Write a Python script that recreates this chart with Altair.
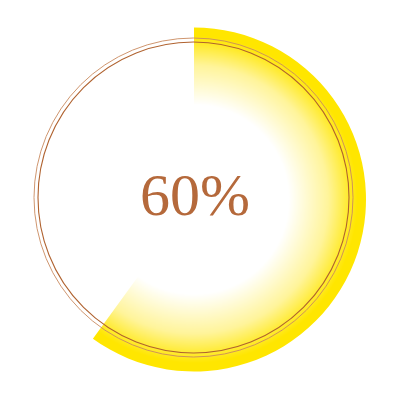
import math
import altair as alt
import pandas as pd

# ---- data ----
labels = ["progress"]
values = [60]
totals = [100]

frac = values[0] / totals[0]
end = 2 * math.pi * frac

# bounding box (in units of the radius) of the pie slice from 12 o'clock clockwise
xs = [0.0, 0.0, math.sin(end)]
ys = [0.0, -1.0, -math.cos(end)]
for a, px, py in [(math.pi / 2, 1, 0), (math.pi, 0, 1), (3 * math.pi / 2, -1, 0)]:
    if a <= end:
        xs.append(px)
        ys.append(py)
w = max(xs) - min(xs)
h = max(ys) - min(ys)
s = max(w, h)
ux0 = (max(xs) + min(xs)) / 2 - s / 2
uy0 = (max(ys) + min(ys)) / 2 - s / 2
gx = (0 - ux0) / s
gy = (0 - uy0) / s
gr = 1 / s

df = pd.DataFrame({"label": labels, "value": values,
                   "text": [f"{v}%" for v in values]})

CX, CY = 186, 191.5
RX, RY = 185.5, 189.5

grad = alt.RadialGradient(
    gradient="radial",
    x1=gx, y1=gy, r1=0,
    x2=gx, y2=gy, r2=gr,
    stops=[
        alt.GradientStop(offset=0.0, color="#ffffff"),
        alt.GradientStop(offset=0.55, color="#ffffff"),
        alt.GradientStop(offset=0.78, color="#fff49a"),
        alt.GradientStop(offset=0.95, color="#ffe600"),
        alt.GradientStop(offset=1.0, color="#ffe600"),
    ],
)

base = alt.Chart(df)

arc = base.mark_arc(radius=172, fill=grad, stroke=None).encode(
    theta=alt.Theta("value:Q", scale=alt.Scale(domain=[0, totals[0]], range=[0, 2 * math.pi])),
    x=alt.value(CX),
    y=alt.value(CY),
)

ring_outer = base.mark_point(shape="circle", filled=False, stroke="#c98a5f",
                             strokeWidth=0.9, opacity=1, size=(2 * 159.5) ** 2).encode(
    x=alt.value(RX), y=alt.value(RY))
ring_inner = base.mark_point(shape="circle", filled=False, stroke="#b0622f",
                             strokeWidth=1.1, opacity=1, size=(2 * 155.5) ** 2).encode(
    x=alt.value(RX), y=alt.value(RY))

txt = base.mark_text(font="Liberation Serif", fontSize=60, color="#b5693b",
                     align="center", baseline="alphabetic").encode(
    text="text:N", x=alt.value(CX + 1), y=alt.value(207))

chart = alt.layer(arc, ring_outer, ring_inner, txt).properties(
    width=384, height=384, padding=0, autosize="none", background="white"
).configure_view(stroke=None)

chart.save("out.html", embed_options={"renderer": "svg", "actions": False})
